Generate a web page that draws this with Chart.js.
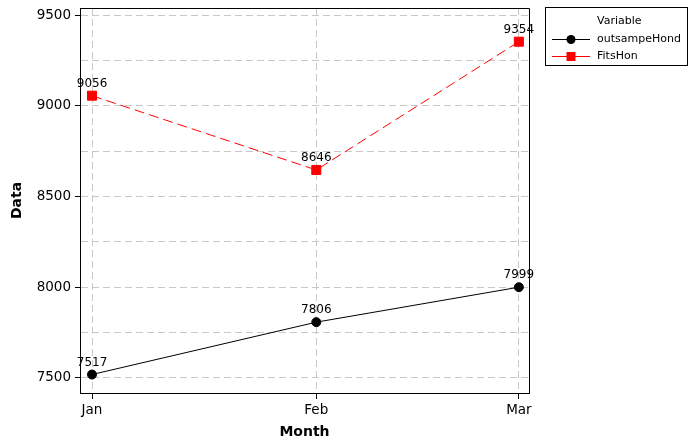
<!DOCTYPE html>
<html>
<head>
<meta charset="utf-8">
<script src="https://cdn.jsdelivr.net/npm/chart.js@4"></script>
<style>
  html, body { margin: 0; padding: 0; background: #fff; }
  #wrap { width: 691px; height: 441px; position: relative; }
</style>
</head>
<body>
<div id="wrap"><canvas id="chart" width="691" height="441"></canvas></div>
<script>
const months = ["Jan", "Feb", "Mar"];
const monthDays = [0, 31, 59]; // days since 1 Jan, the x axis is a date axis
const outsampeHond = [7517, 7806, 7999];
const fitsHon = [9056, 8646, 9354];
const yTicks = [7500, 7750, 8000, 8250, 8500, 8750, 9000, 9250, 9500];

const font = "DejaVu Sans";

// frame on top/right, value labels, legend box
const extras = {
    id: "extras",
    afterDatasetsDraw(chart) {
        const ctx = chart.ctx;
        const a = chart.chartArea;
        ctx.save();
        ctx.strokeStyle = "#000";
        ctx.lineWidth = 1;
        ctx.beginPath();
        ctx.moveTo(Math.round(a.left) + 0.5, Math.round(a.top) + 0.5);
        ctx.lineTo(Math.round(a.right) + 0.5, Math.round(a.top) + 0.5);
        ctx.lineTo(Math.round(a.right) + 0.5, Math.round(a.bottom) + 0.5);
        ctx.stroke();

        ctx.font = "12px '" + font + "'";
        ctx.fillStyle = "#000";
        ctx.textAlign = "center";
        ctx.textBaseline = "alphabetic";
        chart.data.datasets.forEach((ds, i) => {
            chart.getDatasetMeta(i).data.forEach((pt, j) => {
                ctx.fillText(String(ds.data[j].y), pt.x, pt.y - 9);
            });
        });

        // legend
        const lx = 545.5, ly = 7.5;
        ctx.font = "11px '" + font + "'";
        ctx.strokeStyle = "#000";
        ctx.strokeRect(lx, ly, 142, 58);
        ctx.textAlign = "left";
        ctx.textBaseline = "middle";
        ctx.fillText("Variable", 597, 21);
        const rows = [
            { label: "outsampeHond", color: "#000", shape: "circle", y: 39 },
            { label: "FitsHon", color: "#ff0000", shape: "rect", y: 56 }
        ];
        rows.forEach(r => {
            ctx.strokeStyle = r.color;
            ctx.fillStyle = r.color;
            ctx.beginPath();
            ctx.moveTo(552, r.y + 0.5);
            ctx.lineTo(590, r.y + 0.5);
            ctx.stroke();
            ctx.beginPath();
            if (r.shape === "circle") ctx.arc(571, r.y + 0.5, 4.5, 0, Math.PI * 2);
            else ctx.rect(566.5, r.y - 4, 9, 9);
            ctx.fill();
            ctx.fillStyle = "#000";
            ctx.fillText(r.label, 597, r.y);
        });
        ctx.restore();
    }
};

new Chart(document.getElementById("chart"), {
    type: "line",
    data: {
        datasets: [
            {
                label: "outsampeHond",
                data: outsampeHond.map((v, i) => ({ x: monthDays[i], y: v })),
                borderColor: "#000",
                backgroundColor: "#000",
                borderWidth: 1,
                pointStyle: "circle",
                pointRadius: 4.5,
                pointHoverRadius: 4.5,
                tension: 0
            },
            {
                label: "FitsHon",
                data: fitsHon.map((v, i) => ({ x: monthDays[i], y: v })),
                borderColor: "#ff0000",
                backgroundColor: "#ff0000",
                borderWidth: 1,
                borderDash: [10, 5],
                pointStyle: "rect",
                pointRadius: 6.4,
                pointHoverRadius: 6.4,
                tension: 0
            }
        ]
    },
    options: {
        responsive: false,
        animation: false,
        layout: { padding: { left: 0, top: 8, right: 162, bottom: 0 } },
        plugins: { legend: { display: false }, tooltip: { enabled: false } },
        scales: {
            x: {
                type: "linear",
                min: -1.66,
                max: 60.4,
                afterBuildTicks: s => { s.ticks = monthDays.map(d => ({ value: d })); },
                afterFit: s => { s.height = 48; s.paddingLeft = 0; s.paddingRight = 0; },
                ticks: {
                    callback: v => months[monthDays.indexOf(v)],
                    color: "#000",
                    font: { family: font, size: 13.5 },
                    padding: 3,
                    maxRotation: 0
                },
                grid: {
                    color: "#c8c8c8",
                    lineWidth: 1,
                    tickColor: "#000",
                    tickLength: 6
                },
                border: { display: true, color: "#000", width: 1, dash: [7, 4] },
                title: {
                    display: true,
                    text: "Month",
                    color: "#000",
                    font: { family: font, size: 14, weight: "bold" },
                    padding: { top: 0, bottom: 0 }
                }
            },
            y: {
                min: 7415,
                max: 9540,
                afterBuildTicks: s => { s.ticks = yTicks.map(v => ({ value: v })); },
                afterFit: s => { s.width = 80; s.paddingTop = 0; s.paddingBottom = 0; },
                ticks: {
                    callback: v => (v % 500 === 0 ? String(v) : ""),
                    color: "#000",
                    font: { family: font, size: 13.5 },
                    padding: 4
                },
                grid: {
                    color: "#c8c8c8",
                    lineWidth: 1,
                    tickColor: c => (c.tick && c.tick.value % 500 === 0 ? "#000" : "rgba(0,0,0,0)"),
                    tickLength: 5
                },
                border: { display: true, color: "#000", width: 1, dash: [7, 4] },
                title: {
                    display: true,
                    text: "Data",
                    color: "#000",
                    font: { family: font, size: 14, weight: "bold" },
                    padding: { top: 9, bottom: 0 }
                }
            }
        }
    },
    plugins: [extras]
});
</script>
</body>
</html>
